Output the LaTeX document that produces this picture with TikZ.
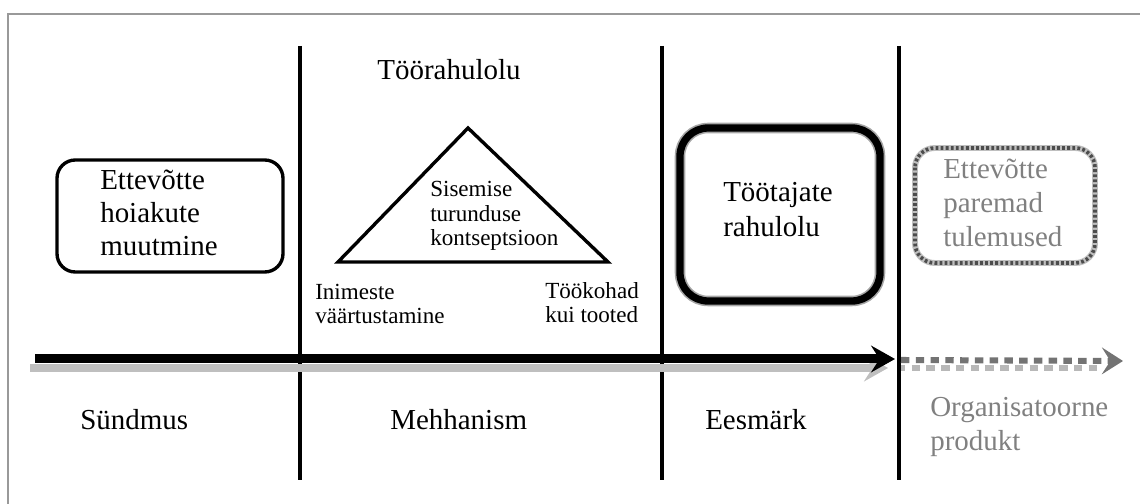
\documentclass[tikz,border=0pt]{standalone}
\usepackage{fontspec}
\setmainfont{Liberation Serif}
\usetikzlibrary{arrows.meta}

\tikzset{
    bigtext/.style={font=\fontsize{20.6}{23.5}\selectfont, align=left, inner sep=0pt, anchor=base west},
    smalltext/.style={font=\fontsize{16.4}{17.5}\selectfont, align=left, inner sep=0pt, anchor=base west},
    greytext/.style={bigtext, text=black!50},
    roundbox/.style={draw, line width=2.4pt, rounded corners=13pt}
}

\begin{document}
\begin{tikzpicture}[x=0.025cm, y=-0.025cm]
        \useasboundingbox (0,0) rectangle (1140,504);
        % Frame
        \draw[black!40, line width=2pt] (8,504) -- (8,14) -- (1140,14);

        % Dividers between the stages
        \foreach \x in {300,662,899} {
            \draw[black, line width=2.2pt] (\x,46) -- (\x,480);
        }

        % Stage 1 (multi-line nodes sit on the baseline of their last line)
        \draw[roundbox] (57,160) rectangle (283,272);
        \node[bigtext] (hoiak) at (100,256) {Ettevõtte\\hoiakute\\muutmine};

        % Stage 2: triangle
        \node[bigtext, anchor=base] (rahul) at (449,80) {Töörahulolu};
        \coordinate (top) at (468,128);
        \coordinate (left) at (338,262);
        \coordinate (right) at (608,262);
        \draw[line width=2.4pt, line join=miter] (top) -- (right) -- (left) -- cycle;
        \node[smalltext] (konts) at (430,246) {Sisemise\\turunduse\\kontseptsioon};
        \node[smalltext] (inim) at (315,324) {Inimeste\\väärtustamine};
        \node[smalltext] (kohad) at (545,323) {Töökohad\\kui tooted};

        % Stage 3
        \draw[black!35, line width=7.5pt, rounded corners=20pt] (680,128) rectangle (880,301);
        \draw[black, line width=5.2pt, rounded corners=20pt] (680,128) rectangle (880,301);
        \node[bigtext, font=\fontsize{20.6}{25}\selectfont] (tootaj) at (723,237) {Töötajate\\rahulolu};

        % Stage 4 (dotted)
        \draw[black!25, line width=4.2pt, rounded corners=14pt] (915,148) rectangle (1095,263);
        \draw[black!70, line width=2.6pt, rounded corners=14pt, dash pattern=on 2pt off 1.6pt] (915,148) rectangle (1095,263);
        \node[greytext, font=\fontsize{20.6}{24.2}\selectfont] (tulem) at (943,247) {Ettevõtte\\paremad\\tulemused};

        % Time axis
        \coordinate (start) at (35,359);
        \coordinate (goal) at (895,359);
        \coordinate (shstart) at (30,368);
        \coordinate (shgoal) at (888,368);
        \coordinate (dstart) at (901,360);
        \coordinate (dgoal) at (1123,361);
        \draw[black!25, line width=5.8pt, -{Stealth[length=17pt, width=19pt, inset=6pt]}] (shstart) -- (shgoal);
        \draw[black, line width=6.4pt, -{Stealth[length=17pt, width=19pt, inset=6pt]}] (start) -- (goal);
        \draw[black!28, line width=4.8pt, dash pattern=on 6pt off 4.5pt, dash phase=3pt] (901,368) -- (1100,368);
        \draw[black!55, line width=4.3pt, dash pattern=on 6pt off 4.5pt, -{Stealth[length=15pt, width=19pt, inset=6pt]}] (dstart) -- (dgoal);

        % Stage names
        \node[bigtext] (sund) at (80,430) {Sündmus};
        \node[bigtext] (mehh) at (390,430) {Mehhanism};
        \node[bigtext] (eesm) at (705,430) {Eesmärk};
        \node[greytext, font=\fontsize{20.6}{24.2}\selectfont] (produkt) at (930,451) {Organisatoorne\\produkt};
    \end{tikzpicture}
\end{document}
